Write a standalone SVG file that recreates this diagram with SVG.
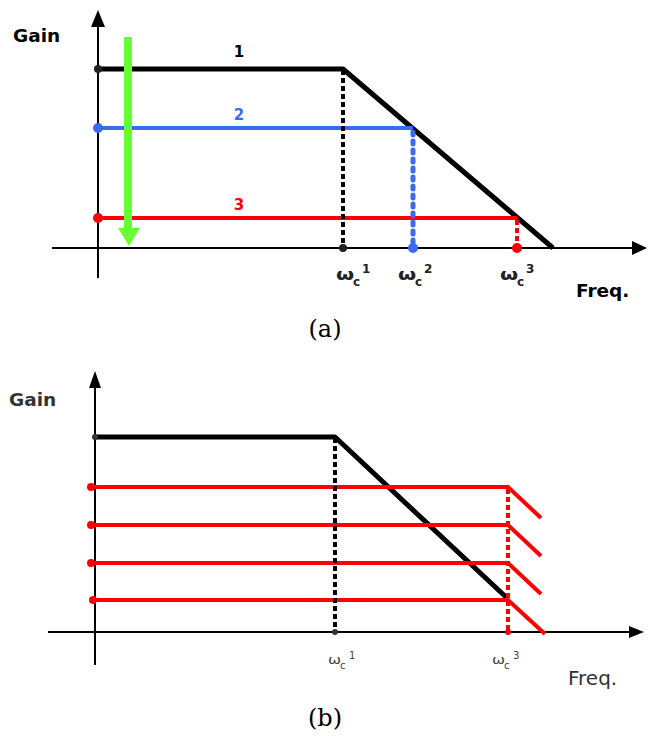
<svg xmlns="http://www.w3.org/2000/svg" width="649" height="736" viewBox="0 0 649 736">
<style>
.ax{stroke:#000;stroke-width:2;fill:none}
.ah{fill:#000}
.blk{stroke:#000;stroke-width:5;fill:none;stroke-linejoin:round}
.blu{stroke:#3a6af2;stroke-width:4;fill:none}
.red{stroke:#ff0000;stroke-width:4;fill:none}
.dblk{stroke:#000;stroke-width:4;stroke-dasharray:5 3;fill:none}
.dblu{stroke:#3a6af2;stroke-width:5;stroke-dasharray:3 6;stroke-linecap:round;fill:none}
.dred{stroke:#ff0000;stroke-width:4;stroke-dasharray:5 3;fill:none}
.lbl{font-family:"DejaVu Sans",Verdana,sans-serif;font-weight:bold;font-size:18.5px}
.num{font-family:"DejaVu Sans",Verdana,sans-serif;font-weight:bold;font-size:15px;text-anchor:middle}
.w{font-family:"DejaVu Sans",sans-serif;font-weight:bold;font-size:15px;fill:#222}
.ws{font-family:"DejaVu Sans",sans-serif;font-weight:bold;font-size:12px;fill:#222}
.wb{font-family:"DejaVu Sans",sans-serif;font-size:12px;fill:#444}
.wbs{font-family:"DejaVu Sans",sans-serif;font-size:10px;fill:#444}
.cap{font-family:"DejaVu Serif","Liberation Serif",serif;font-size:24px;text-anchor:middle}
</style>
<g id="chart-a">
<g id="axes-a">
<line class="ax" x1="98" y1="24" x2="98" y2="278"/>
<polygon class="ah" points="98,10 91,27 105,27"/>
<line class="ax" x1="52" y1="248" x2="633" y2="248"/>
<polygon class="ah" points="647,248 632,241 632,255"/>
</g>
<g id="curves-a">
<polyline class="blk" points="98,69 343,69 553,248"/>
<line class="blu" x1="98" y1="128" x2="413" y2="128"/>
<line class="red" x1="98" y1="218" x2="517" y2="218"/>
<line class="dblk" x1="343" y1="70" x2="343" y2="248"/>
<line class="dblu" x1="413" y1="132" x2="413" y2="246"/>
<line class="dred" x1="517" y1="220" x2="517" y2="248"/>
<circle cx="98" cy="69" r="4" fill="#222"/>
<circle cx="98" cy="128" r="5" fill="#3a6af2"/>
<circle cx="98" cy="218" r="5" fill="#ff0000"/>
<circle cx="343" cy="248" r="4" fill="#222"/>
<circle cx="413" cy="248" r="5" fill="#3a6af2"/>
<circle cx="517" cy="248" r="5" fill="#ff0000"/>
</g>
<g id="green-arrow">
<line x1="128" y1="37" x2="128" y2="230" stroke="#66ff33" stroke-width="8"/>
<polygon points="118,228 140,228 129,246" fill="#66ff33"/>
</g>
<g id="labels-a">
<text class="lbl" x="13" y="42">Gain</text>
<text class="num" x="239" y="57">1</text>
<text class="num" x="239" y="120" fill="#3a6af2">2</text>
<text class="num" x="239" y="210" fill="#ff0000">3</text>
<g id="wc1-a">
<text class="w" transform="translate(336,280) scale(1.4,1)">ω</text>
<text class="ws" x="353" y="286">c</text>
<text class="ws" x="362" y="273">1</text>
</g>
<g id="wc2-a">
<text class="w" transform="translate(398,280) scale(1.4,1)">ω</text>
<text class="ws" x="415" y="286">c</text>
<text class="ws" x="424" y="273">2</text>
</g>
<g id="wc3-a">
<text class="w" transform="translate(500,280) scale(1.4,1)">ω</text>
<text class="ws" x="517" y="286">c</text>
<text class="ws" x="526" y="273">3</text>
</g>
<text class="lbl" x="576" y="297">Freq.</text>
<text class="cap" x="325" y="337">(a)</text>
</g>
</g>
<g id="chart-b">
<g id="axes-b">
<line class="ax" x1="95" y1="385" x2="95" y2="665"/>
<polygon class="ah" points="95,371 89,388 101,388"/>
<line class="ax" x1="48" y1="632" x2="630" y2="632"/>
<polygon class="ah" points="644,632 629,626 629,638"/>
</g>
<g id="curves-b">
<polyline class="blk" points="95,437 335,437 507,598"/>
<polyline class="red" points="91,487 508,487 541,518"/>
<polyline class="red" points="91,525 508,525 541,556"/>
<polyline class="red" points="91,563 508,563 541,594"/>
<polyline class="red" points="91,600 508,600 545,634"/>
<line class="dblk" x1="335" y1="438" x2="335" y2="632"/>
<line class="dred" x1="508" y1="489" x2="508" y2="632"/>
<circle cx="95" cy="437" r="3" fill="#333"/>
<circle cx="91" cy="487" r="4" fill="#ff0000"/>
<circle cx="91" cy="525" r="4" fill="#ff0000"/>
<circle cx="91" cy="563" r="4" fill="#ff0000"/>
<circle cx="93" cy="600" r="4" fill="#ff0000"/>
<circle cx="335" cy="632" r="3" fill="#333"/>
<circle cx="508" cy="632" r="3" fill="#ff0000"/>
</g>
<g id="labels-b">
<text class="lbl" x="9" y="406" fill="#333">Gain</text>
<g id="wc1-b">
<text class="wb" transform="translate(328,664) scale(1.3,1)">ω</text>
<text class="wbs" x="340" y="669">c</text>
<text class="wbs" x="349" y="659">1</text>
</g>
<g id="wc3-b">
<text class="wb" transform="translate(492,664) scale(1.3,1)">ω</text>
<text class="wbs" x="504" y="669">c</text>
<text class="wbs" x="513" y="659">3</text>
</g>
<text x="568" y="685" font-family="DejaVu Sans, Verdana, sans-serif" font-size="20px" fill="#333">Freq.</text>
<text class="cap" x="325" y="726">(b)</text>
</g>
</g>
</svg>
